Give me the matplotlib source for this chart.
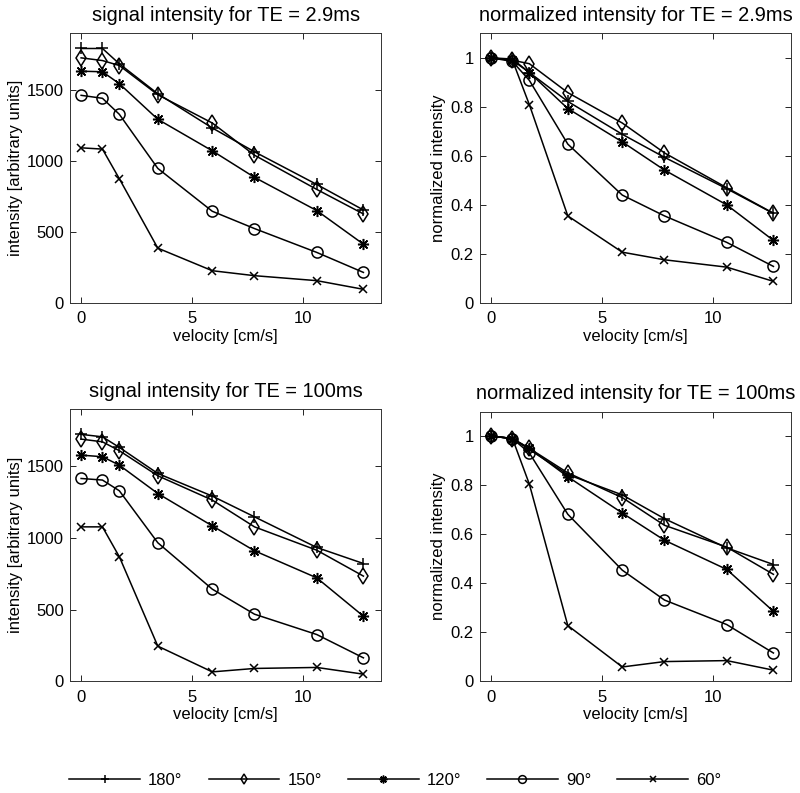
import matplotlib
matplotlib.use("Agg")
import matplotlib.pyplot as plt

plt.rcParams['font.family'] = ['Liberation Sans', 'DejaVu Sans']

velocity = [0, 0.96, 1.72, 3.45, 5.9, 7.8, 10.6, 12.7]
angles = ['180°', '150°', '120°', '90°', '60°']

# signal intensity, TE = 2.9 ms
sig_29 = {
    '180°': [1793, 1793, 1685, 1474, 1233, 1065, 835, 655],
    '150°': [1727, 1708, 1673, 1467, 1268, 1041, 800, 627],
    '120°': [1633, 1629, 1545, 1294, 1072, 885, 651, 414],
    '90°':  [1463, 1442, 1329, 948, 646, 524, 356, 215],
    '60°':  [1093, 1084, 875, 386, 227, 192, 157, 96],
}
norm_29 = {
    '180°': [1, 0.995, 0.94, 0.822, 0.688, 0.594, 0.466, 0.365],
    '150°': [1, 0.99, 0.976, 0.858, 0.734, 0.612, 0.47, 0.366],
    '120°': [1, 0.99, 0.94, 0.793, 0.657, 0.542, 0.40, 0.255],
    '90°':  [1, 0.985, 0.908, 0.648, 0.44, 0.355, 0.247, 0.149],
    '60°':  [1, 0.99, 0.809, 0.355, 0.207, 0.176, 0.146, 0.088],
}
# signal intensity, TE = 100 ms
sig_100 = {
    '180°': [1724, 1707, 1633, 1451, 1293, 1148, 934, 822],
    '150°': [1691, 1672, 1610, 1435, 1265, 1078, 915, 734],
    '120°': [1579, 1568, 1509, 1311, 1085, 911, 722, 454],
    '90°':  [1416, 1405, 1330, 967, 643, 468, 326, 163],
    '60°':  [1078, 1078, 869, 245, 65, 89, 96, 49],
}
norm_100 = {
    '180°': [1, 0.99, 0.945, 0.843, 0.76, 0.663, 0.544, 0.476],
    '150°': [1, 0.99, 0.95, 0.85, 0.749, 0.636, 0.547, 0.436],
    '120°': [1, 0.99, 0.95, 0.834, 0.686, 0.575, 0.456, 0.285],
    '90°':  [1, 0.99, 0.931, 0.681, 0.453, 0.331, 0.231, 0.115],
    '60°':  [1, 0.99, 0.804, 0.227, 0.058, 0.08, 0.084, 0.045],
}

markers = {'180°': '+', '150°': 'd', '120°': (8, 2, 0), '90°': 'o', '60°': 'x'}
msizes = {'180°': 9, '150°': 8, '120°': 8, '90°': 8, '60°': 6}

fig = plt.figure(figsize=(8, 7.93), dpi=100)

panels = [
    ([0.0875, 0.618, 0.389, 0.340], sig_29, 'signal intensity for TE = 2.9ms', 'intensity [arbitrary units]', 1900),
    ([0.600, 0.618, 0.389, 0.340], norm_29, 'normalized intensity for TE = 2.9ms', 'normalized intensity', 1.1),
    ([0.0875, 0.141, 0.389, 0.343], sig_100, 'signal intensity for TE = 100ms', 'intensity [arbitrary units]', 1900),
    ([0.600, 0.141, 0.389, 0.340], norm_100, 'normalized intensity for TE = 100ms', 'normalized intensity', 1.1),
]

for rect, data, title, ylabel, ytop in panels:
    ax = fig.add_axes(rect)
    for a in angles:
        ax.plot(velocity, data[a], color='black', lw=1.1, marker=markers[a],
                ms=msizes[a], mfc='none', mec='black', mew=1.1, label=a)
    ax.set_xlim(-0.5, 13.5)
    ax.set_ylim(0, ytop)
    ax.set_xticks([0, 5, 10])
    if ytop > 10:
        ax.set_yticks([0, 500, 1000, 1500])
    else:
        ax.set_yticks([0, 0.2, 0.4, 0.6, 0.8, 1])
        ax.set_yticklabels(['0', '0.2', '0.4', '0.6', '0.8', '1'])
    ax.tick_params(direction='in', top=True, right=True, labelsize=12, length=4, width=0.6)
    ax.tick_params(axis='x', pad=6)
    ax.tick_params(axis='y', pad=4.5)
    for s in ax.spines.values():
        s.set_linewidth(0.7)
        s.set_color('#333333')
    ax.set_title(title, fontsize=14.4, pad=9)
    ax.set_xlabel('velocity [cm/s]', fontsize=12, labelpad=2)
    ax.set_ylabel(ylabel, fontsize=12, labelpad=3)

handles, labels = ax.get_legend_handles_labels()
fig.legend(handles, labels, loc='center', bbox_to_anchor=(0.494, 0.016), ncol=5,
           frameon=False, fontsize=12, handlelength=4.25, handletextpad=0.48,
           columnspacing=1.56, markerscale=0.7)

fig.savefig('out.png', dpi=100)
